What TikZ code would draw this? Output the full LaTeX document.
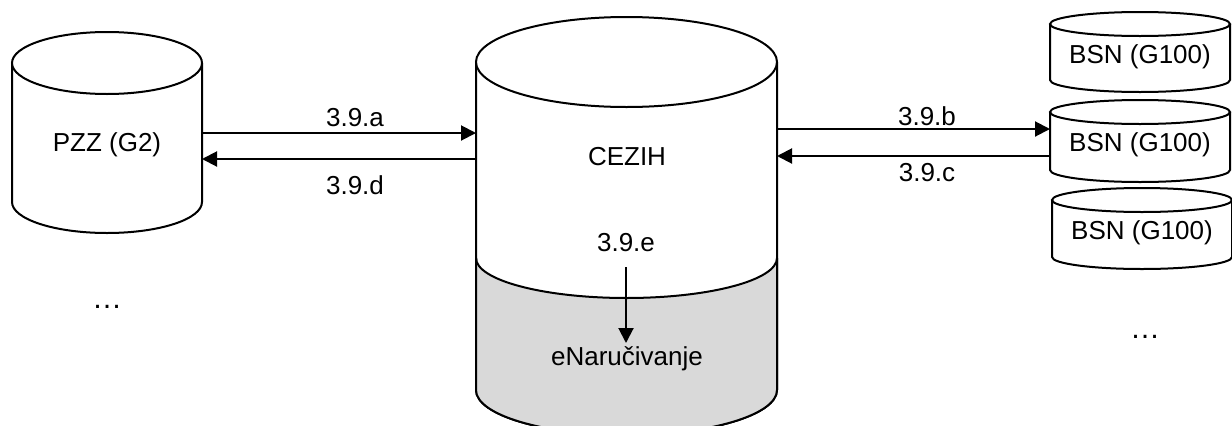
\documentclass[tikz,border=0pt]{standalone}
\usepackage{fontspec}
\setmainfont{Liberation Sans}
\usetikzlibrary{arrows.meta}

%% Draw a data store: left x, right x, top y, bottom y, ellipse height, fill
\newcommand\drawdb[6]{%
  \pgfmathsetmacro\dbrx{(#2-#1)/4}
  \pgfmathsetmacro\dbry{#5/4}
  \pgfmathsetmacro\dbcx{(#1+#2)/2}
  \filldraw[fill=#6] (#1,#3) -- (#1,#4) arc (180:360:\dbrx pt and \dbry pt) -- (#2,#3);
  \filldraw[fill=#6] (\dbcx,#3) ellipse (\dbrx pt and \dbry pt);
}

\begin{document}
\begin{tikzpicture}[x=.5pt,y=.5pt,line width=1pt,
    txt/.style={font=\fontsize{13}{15}\selectfont,inner sep=1pt},
    dots/.style={font=\fontsize{15}{17}\selectfont,inner sep=1pt},
    link/.style={-{Triangle[length=7.5pt,width=7.5pt]},line width=1pt}]

  \useasboundingbox (0,0) rectangle (1232,425);

  %% PZZ on the left
  \drawdb{12}{202}{362}{223}{62}{white}
  \node[txt] (pzz) at (107,280) {PZZ (G2)};
  \node[dots] (dotsL) at (107,118) {…};

  %% CEZIH in the middle, with the grey eNarucivanje part
  \drawdb{476}{777}{363}{35}{90}{white}
  \fill[gray!30] (476,167) arc (180:360:75.25pt and 20pt) -- (777,35)
    arc (360:180:75.25pt and 22.5pt) -- cycle;
  \draw (476,167) arc (180:360:75.25pt and 20pt);
  \draw (476,167) -- (476,35) arc (180:360:75.25pt and 22.5pt) -- (777,167);
  \node[txt] (cezih) at (627,268) {CEZIH};
  \node[txt] (lblE) at (626,182) {3.9.e};
  \node[txt] (enar) at (627,66) {eNaručivanje};

  %% BSN stores on the right
  \foreach \top/\bot/\lft/\n in {401/345/1050/1,313/255/1050/2,225/168/1052/3}{
    \drawdb{\lft}{\lft+180}{\top}{\bot}{24}{white}
  }
  \node[txt] (bsn1) at (1140,368) {BSN (G100)};
  \node[txt] (bsn2) at (1140,280) {BSN (G100)};
  \node[txt] (bsn3) at (1142,192) {BSN (G100)};
  \node[dots] (dotsR) at (1145,88) {…};

  %% Connection points on the stores
  \coordinate (pzzA) at (202,292);
  \coordinate (cezA) at (476,292);
  \coordinate (pzzD) at (202,266);
  \coordinate (cezD) at (476,266);
  \coordinate (cezB) at (777,296);
  \coordinate (bsnB) at (1050,296);
  \coordinate (cezC) at (777,269);
  \coordinate (bsnC) at (1050,269);
  \coordinate (eTop) at (626,158);
  \coordinate (eBot) at (626,82);

  %% Messages
  \draw[link] (pzzA) -- (cezA);
  \draw[link] (cezD) -- (pzzD);
  \draw[link] (cezB) -- (bsnB);
  \draw[link] (bsnC) -- (cezC);
  \draw[link] (eTop) -- (eBot);

  \node[txt] (la) at (355,307) {3.9.a};
  \node[txt] (ld) at (355,240) {3.9.d};
  \node[txt] (lb) at (927,309) {3.9.b};
  \node[txt] (lc) at (927,252) {3.9.c};

\end{tikzpicture}
\end{document}
